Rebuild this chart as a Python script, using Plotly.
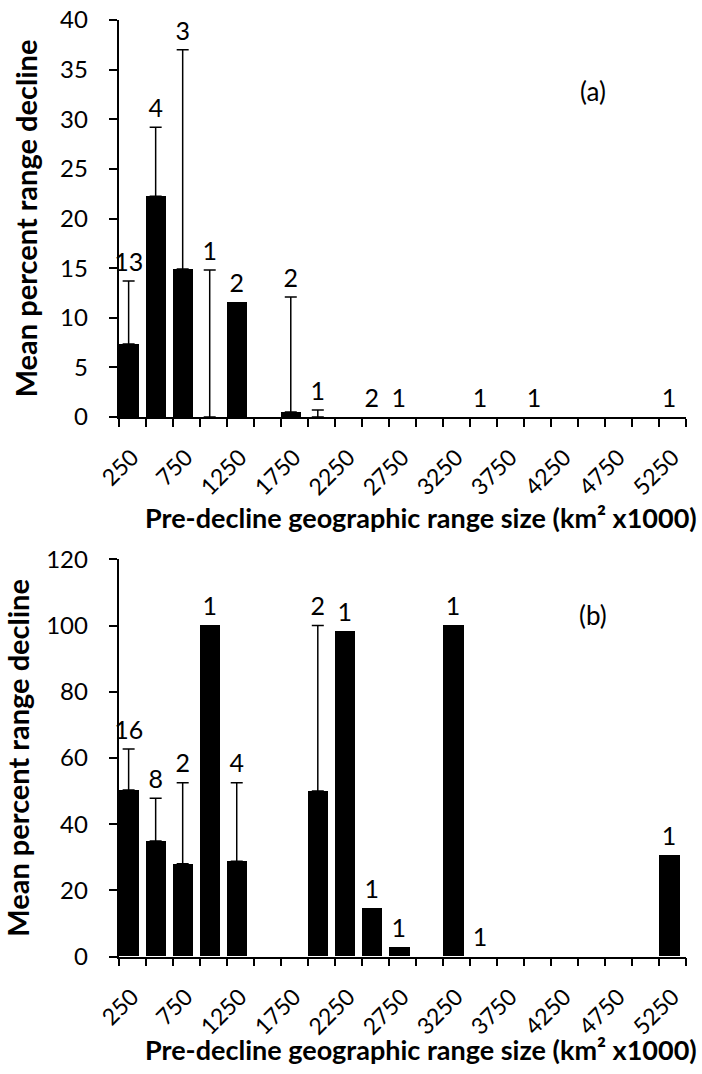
import plotly.graph_objects as go

# ---------------- data ----------------
categories = [250, 500, 750, 1000, 1250, 1500, 1750, 2000, 2250, 2500, 2750,
              3000, 3250, 3500, 3750, 4000, 4250, 4500, 4750, 5000, 5250]

# panel (a)  (None = no bar in that size class)
a_mean = [7.35, 22.25, 14.9, None, 11.6, None, 0.5, None, None, None, None,
          None, None, None, None, None, None, None, None, None, None]
a_err = [6.35, 6.95, 22.1, 14.8, None, None, 11.6, 0.7, None, None, None,
         None, None, None, None, None, None, None, None, None, None]
a_n = ["13", "4", "3", "1", "2", "", "2", "1", "", "2", "1",
       "", "", "1", "", "1", "", "", "", "", "1"]

# panel (b)
b_mean = [50.3, 34.9, 28.0, 100, 28.8, None, None, 50, 98.4, 14.5, 2.7,
          None, 100, None, None, None, None, None, None, None, 30.5]
b_err = [12.4, 12.9, 24.5, None, 23.7, None, None, 50, None, None, None,
         None, None, None, None, None, None, None, None, None, None]
b_n = ["16", "8", "2", "1", "4", "", "", "2", "1", "1", "1",
       "", "1", "1", "", "", "", "", "", "", "1"]

x_title = "Pre-decline geographic range size (km² x1000)"
y_title = "Mean percent range decline"

# ---------------- style ----------------
W, H = 702, 1074
FONT = "Lato"
BLACK = "#000000"
BAR_W = 0.75

xpos = list(range(len(categories)))
bar_center = [i - 0.5 + BAR_W / 2 for i in xpos]
tick_even = xpos[::2]
tick_text = [str(categories[i]) for i in tick_even]
boundaries = [i - 0.5 for i in range(len(categories) + 1)]


def px_to_paper_y(py):
    return 1 - py / H


fig = go.Figure()


def add_panel(means, errs, counts, xa, ya, pad):
    base = [m if m is not None else 0 for m in means]
    fig.add_trace(go.Bar(
        x=xpos, y=means, xaxis=xa, yaxis=ya,
        width=BAR_W, offset=-0.5,
        marker=dict(color=BLACK, line=dict(width=0)),
        showlegend=False, hoverinfo="skip",
    ))
    # error bars (upper only)
    ex, ey, ee = [], [], []
    for i, e in enumerate(errs):
        if e is not None:
            ex.append(bar_center[i])
            ey.append(base[i])
            ee.append(e)
    fig.add_trace(go.Scatter(
        x=ex, y=ey, mode="markers", marker=dict(size=1, opacity=0),
        error_y=dict(type="data", array=ee, arrayminus=[None] * len(ee),
                     symmetric=False, color=BLACK, thickness=1.5, width=6),
        xaxis=xa, yaxis=ya, showlegend=False, hoverinfo="skip",
        cliponaxis=False,
    ))
    lx, ly, lt = [], [], []
    for i, c in enumerate(counts):
        if c:
            e = errs[i] if errs[i] is not None else 0
            lx.append(bar_center[i])
            ly.append(base[i] + e + pad)
            lt.append(c)
    fig.add_trace(go.Scatter(
        x=lx, y=ly, text=lt, mode="text", textposition="top center",
        textfont=dict(family=FONT, size=25, color=BLACK),
        xaxis=xa, yaxis=ya, showlegend=False, hoverinfo="skip",
        cliponaxis=False,
    ))


add_panel(a_mean, a_err, a_n, "x", "y", 0.4)
add_panel(b_mean, b_err, b_n, "x2", "y2", 1.2)

x_dom = [118.5 / W, 686 / W]
ya_dom = [px_to_paper_y(417), px_to_paper_y(20)]
yb_dom = [px_to_paper_y(956.5), px_to_paper_y(559.3)]

xaxis_common = dict(
    range=[-0.5, len(categories) - 0.5],
    domain=x_dom, automargin=False,
    tickmode="array", tickvals=tick_even, ticktext=tick_text,
    tickangle=-45, ticks="", ticklabelstandoff=16,
    tickfont=dict(family=FONT, size=23, color=BLACK),
    showline=True, linecolor=BLACK, linewidth=1.5,
    showgrid=False, zeroline=False,
    minor=dict(tickmode="array", tickvals=boundaries, ticks="outside",
               ticklen=8, tickwidth=1.5, tickcolor=BLACK, showgrid=False),
    fixedrange=True,
)

yaxis_common = dict(
    automargin=False,
    ticks="outside", ticklen=8, tickwidth=1.5, tickcolor=BLACK,
    ticklabelstandoff=16,
    tickfont=dict(family=FONT, size=24, color=BLACK),
    showline=True, linecolor=BLACK, linewidth=1.5,
    showgrid=False, zeroline=False,
    title=dict(text=y_title, font=dict(family=FONT, size=29, color=BLACK,
                                       weight="bold"), standoff=14),
    fixedrange=True,
)

xtitle_font = dict(family=FONT, size=27, color=BLACK, weight="bold")

fig.update_layout(
    template="none",
    width=W, height=H,
    margin=dict(l=0, r=0, t=0, b=0),
    paper_bgcolor="white", plot_bgcolor="white",
    font=dict(family=FONT, color=BLACK),
    bargap=0,
    xaxis=dict(**xaxis_common, anchor="y"),
    yaxis=dict(**yaxis_common, domain=ya_dom, range=[0, 40], dtick=5,
               anchor="x"),
    xaxis2=dict(**xaxis_common, anchor="y2"),
    yaxis2=dict(**yaxis_common, domain=yb_dom, range=[0, 120], dtick=20,
                anchor="x2"),
    annotations=[
        dict(text=x_title, xref="paper", yref="paper",
             x=421 / W, y=px_to_paper_y(517), showarrow=False,
             xanchor="center", yanchor="middle", font=xtitle_font),
        dict(text=x_title, xref="paper", yref="paper",
             x=421 / W, y=px_to_paper_y(1049), showarrow=False,
             xanchor="center", yanchor="middle", font=xtitle_font),
        dict(text="(a)", xref="paper", yref="paper",
             x=608 / W, y=px_to_paper_y(73), showarrow=False,
             font=dict(family=FONT, size=26, color=BLACK)),
        dict(text="(b)", xref="paper", yref="paper",
             x=609 / W, y=px_to_paper_y(615), showarrow=False,
             font=dict(family=FONT, size=26, color=BLACK)),
    ],
)

fig.write_html("out.html", config={"displayModeBar": False},
               post_script="document.body.style.margin='0';")
